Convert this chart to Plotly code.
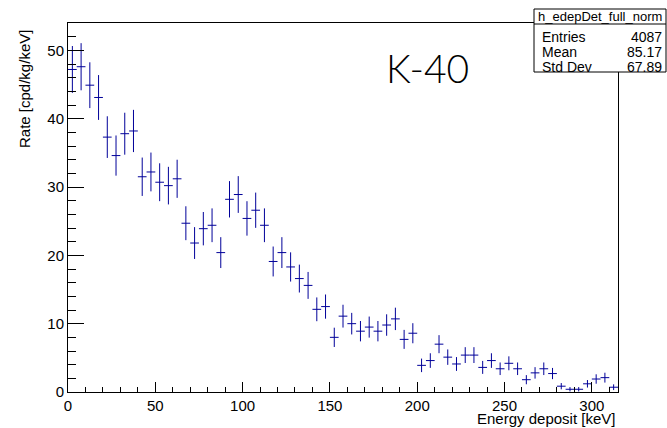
import numpy as np
import plotly.graph_objects as go

# ---- data ----
bin_width = 5.0          # keV
n_bins = 63              # 0 .. 315 keV
rate = [47.2, 47.6, 44.9, 43.1, 37.3, 34.6, 37.8, 38.2, 31.5, 32.2,
        30.7, 30.2, 31.2, 24.7, 21.8, 23.9, 24.4, 20.4, 28.2, 28.9,
        25.4, 26.6, 24.4, 19.1, 20.4, 18.3, 16.6, 15.6, 12.1, 12.5,
        8.0, 11.1, 10.0, 8.9, 9.5, 8.9, 9.8, 10.7, 7.7, 8.6,
        3.9, 4.6, 7.0, 5.1, 4.1, 5.4, 5.4, 3.6, 4.6, 3.4,
        4.2, 3.4, 1.8, 2.8, 3.4, 2.7, 0.85, 0.4, 0.4, 1.2,
        1.9, 2.1, 0.7]
rate_err = [3.43, 3.45, 3.35, 3.28, 3.05, 2.94, 3.07, 3.09, 2.81, 2.84,
            2.77, 2.75, 2.79, 2.48, 2.33, 2.44, 2.47, 2.26, 2.66, 2.69,
            2.52, 2.58, 2.47, 2.19, 2.26, 2.14, 2.04, 1.97, 1.74, 1.77,
            1.41, 1.67, 1.58, 1.49, 1.54, 1.49, 1.57, 1.64, 1.39, 1.47,
            0.99, 1.07, 1.32, 1.13, 1.01, 1.16, 1.16, 0.95, 1.07, 0.92,
            1.02, 0.92, 0.67, 0.84, 0.92, 0.82, 0.46, 0.32, 0.32, 0.55,
            0.69, 0.72, 0.42]
x_ticks = [0, 50, 100, 150, 200, 250, 300]
y_ticks = [0, 10, 20, 30, 40, 50]
stats_title = "h_edepDet_full_norm"
stats_rows = [("Entries", "4087"), ("Mean", "85.17"), ("Std Dev", "67.89")]

centers = (np.arange(n_bins) + 0.5) * bin_width
half_w = [bin_width / 2] * n_bins

# ---- geometry ----
W, H = 667, 428
L, R, T, B = 68, 49, 23, 36
pw, ph = W - L - R, H - T - B

def px(xp):
    return (xp - L) / pw

def py(yp):
    return (H - B - yp) / ph

col = "#000099"
FONT = "Liberation Sans, Arial, Helvetica, sans-serif"

fig = go.Figure()
fig.add_trace(go.Scatter(
    x=centers, y=rate, mode="markers",
    marker=dict(size=0.1, color=col),
    error_y=dict(type="data", array=rate_err, width=0, thickness=1, color=col),
    error_x=dict(type="data", array=half_w, width=0, thickness=1, color=col),
    showlegend=False, hoverinfo="x+y",
))

fig.update_layout(
    width=W, height=H,
    margin=dict(l=L, r=R, t=T, b=B, pad=0),
    paper_bgcolor="white", plot_bgcolor="white",
    font=dict(family=FONT, size=15, color="black"),
    xaxis=dict(range=[0, n_bins * bin_width], tickvals=x_ticks,
               ticks="inside", ticklen=10, tickwidth=1, tickcolor="black",
               minor=dict(dtick=10, ticks="inside", ticklen=5, tickwidth=1, tickcolor="black"),
               showline=True, linecolor="black", linewidth=1, mirror=True,
               showgrid=False, zeroline=False, tickfont=dict(size=15)),
    yaxis=dict(range=[0, 54], tickvals=y_ticks,
               ticks="inside", ticklen=16, tickwidth=1, tickcolor="black",
               minor=dict(dtick=2, ticks="inside", ticklen=8, tickwidth=1, tickcolor="black"),
               showline=True, linecolor="black", linewidth=1, mirror=True,
               showgrid=False, zeroline=False, tickfont=dict(size=15)),
)

# axis titles (ROOT style, aligned to axis ends)
fig.add_annotation(text="Energy deposit [keV]", xref="paper", yref="paper",
                   x=px(617), y=py(418), xanchor="right", yanchor="middle",
                   showarrow=False, font=dict(size=15))
fig.add_annotation(text="Rate [cpd/kg/keV]", xref="paper", yref="paper",
                   x=px(25), y=py(28), xanchor="center", yanchor="top",
                   textangle=-90, showarrow=False, font=dict(size=15))

# K-40 label
fig.add_annotation(text="K-40", xref="paper", yref="paper",
                   x=px(427), y=py(68), xanchor="center", yanchor="middle",
                   showarrow=False, font=dict(size=39, family="Lato, Liberation Sans, sans-serif", weight=300))

# stats box
bx0, bx1, by0, by1, bsep = 534, 666, 9, 72, 24
fig.add_shape(type="rect", xref="paper", yref="paper",
              x0=px(bx0), x1=px(bx1), y0=py(by1), y1=py(by0),
              line=dict(color="black", width=1), fillcolor="white", layer="above")
fig.add_shape(type="line", xref="paper", yref="paper",
              x0=px(bx0), x1=px(bx1), y0=py(bsep), y1=py(bsep),
              line=dict(color="black", width=1), layer="above")
fig.add_annotation(text=stats_title, xref="paper", yref="paper",
                   x=px((bx0 + bx1) / 2), y=py(16.5), xanchor="center", yanchor="middle",
                   showarrow=False, font=dict(size=13))
row_y = [36.5, 52.0, 67.0]
for (lab, val), yy in zip(stats_rows, row_y):
    fig.add_annotation(text=lab, xref="paper", yref="paper",
                       x=px(bx0 + 6), y=py(yy), xanchor="left", yanchor="middle",
                       showarrow=False, font=dict(size=14))
    fig.add_annotation(text=val, xref="paper", yref="paper",
                       x=px(bx1 - 2), y=py(yy), xanchor="right", yanchor="middle",
                       showarrow=False, font=dict(size=14))

fig.write_html("out.html", config={"displayModeBar": False})

# remove the default page margin so the figure sits at the window origin
with open("out.html", "r", encoding="utf-8") as fh:
    html = fh.read()
html = html.replace("<head>", "<head><style>html,body{margin:0;padding:0;overflow:hidden;}</style>", 1)
with open("out.html", "w", encoding="utf-8") as fh:
    fh.write(html)
